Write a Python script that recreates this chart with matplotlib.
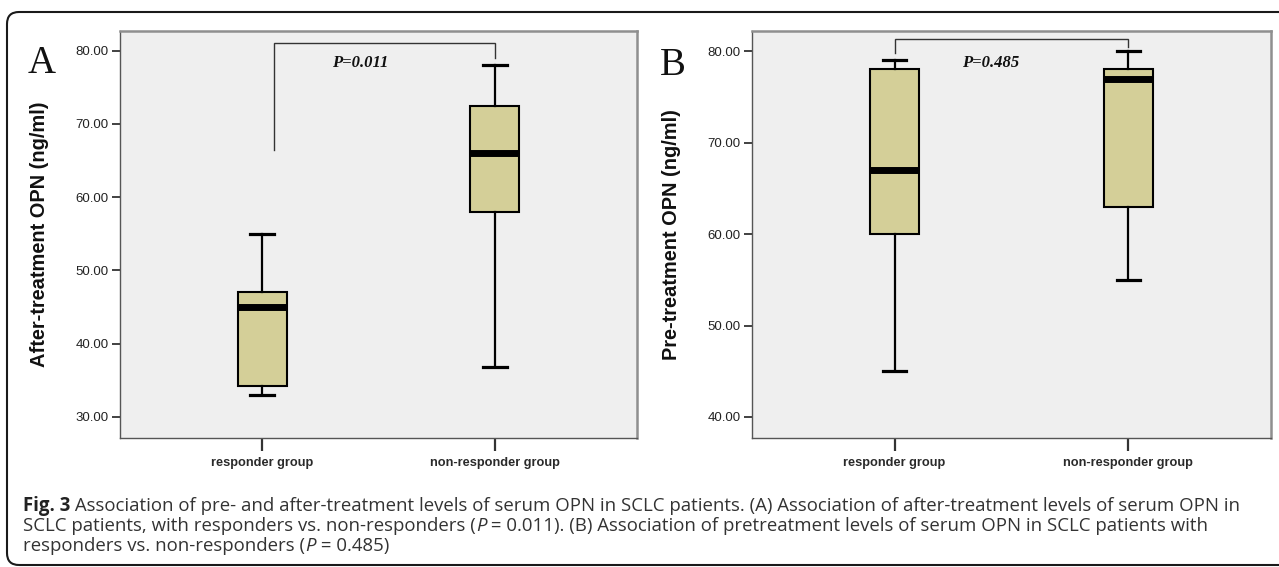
import matplotlib
matplotlib.use("Agg")
import matplotlib.pyplot as plt
from matplotlib.patches import FancyBboxPatch
from matplotlib.transforms import IdentityTransform

W, H, DPI = 1279, 567, 100

# ---------------- data ----------------
categories = ["responder group", "non-responder group"]

# Panel A: after-treatment OPN (ng/ml)
a_whislo = [33.0, 36.8]
a_q1 = [34.2, 58.0]
a_med = [45.0, 66.0]
a_q3 = [47.0, 72.5]
a_whishi = [55.0, 78.0]
a_ylabel = "After-treatment OPN (ng/ml)"
a_yticks = [30, 40, 50, 60, 70, 80]
a_p = "P=0.011"
a_bracket_x = [1.05, 2.0]
a_bracket_y = [66.4, 81.0, 79.0]   # left leg bottom, top, right leg bottom

# Panel B: pre-treatment OPN (ng/ml)
b_whislo = [45.0, 55.0]
b_q1 = [60.0, 63.0]
b_med = [67.0, 77.0]
b_q3 = [78.0, 78.0]
b_whishi = [79.0, 80.0]
b_ylabel = "Pre-treatment OPN (ng/ml)"
b_yticks = [40, 50, 60, 70, 80]
b_p = "P=0.485"
b_bracket_x = [1.0, 2.0]
b_bracket_y = [79.8, 81.3, 80.4]

caption_lines = [
    [("Fig. 3", "bold"), (" Association of pre- and after-treatment levels of serum OPN in SCLC patients. (A) Association of after-treatment levels of serum OPN in", "normal")],
    [("SCLC patients, with responders vs. non-responders (", "normal"), ("P", "italic"), (" = 0.011). (B) Association of pretreatment levels of serum OPN in SCLC patients with", "normal")],
    [("responders vs. non-responders (", "normal"), ("P", "italic"), (" = 0.485)", "normal")],
]

# ---------------- styling ----------------
BOX_FILL = "#d4cf98"
AX_BG = "#efefef"
SANS = "Liberation Sans"
SERIF = "Liberation Serif"

fig = plt.figure(figsize=(W / DPI, H / DPI), dpi=DPI)
fig.patch.set_facecolor("white")


def px_axes(left, top, right, bottom):
    return fig.add_axes([left / W, 1 - bottom / H, (right - left) / W, (bottom - top) / H])


def draw_panel(ax, whislo, q1, med, q3, whishi, ylim, yticks, ylabel, ptext, ptext_xy, bx, by):
    stats = []
    for i, c in enumerate(categories):
        stats.append(dict(label=c, whislo=whislo[i], q1=q1[i], med=med[i], q3=q3[i], whishi=whishi[i], fliers=[]))
    ax.bxp(stats, positions=[1, 2], widths=0.21, capwidths=0.10, patch_artist=True, showfliers=False,
           boxprops=dict(facecolor=BOX_FILL, edgecolor="black", linewidth=1.5),
           medianprops=dict(color="black", linewidth=5.0, solid_capstyle="butt"),
           whiskerprops=dict(color="black", linewidth=1.6),
           capprops=dict(color="black", linewidth=2.3))
    ax.set_facecolor(AX_BG)
    ax.set_xlim(0.39, 2.61)
    ax.set_ylim(*ylim)
    ax.set_yticks(yticks)
    ax.set_yticklabels([f"{v:.2f}" for v in yticks], fontfamily=SANS, fontsize=9.5, color="#222222")
    ax.set_xticks([1, 2])
    ax.set_xticklabels(categories, fontfamily=SANS, fontsize=9.2, fontweight="bold", color="#2a2a2a")
    ax.tick_params(axis="y", direction="out", length=6, width=1.3, pad=2, color="#333333")
    ax.tick_params(axis="x", direction="out", length=9, width=1.6, pad=5, color="#333333")
    for s in ("left", "bottom"):
        ax.spines[s].set_color("#555555")
        ax.spines[s].set_linewidth(1.0)
    for s in ("top", "right"):
        ax.spines[s].set_color("#8f8f8f")
        ax.spines[s].set_linewidth(1.8)
    ax.set_ylabel(ylabel, fontfamily=SANS, fontsize=14.4, fontweight="bold", color="#111111")
    ax.yaxis.set_label_coords(-0.137, 0.5)
    # significance bracket
    ax.plot([bx[0], bx[0], bx[1], bx[1]], [by[0], by[1], by[1], by[2]], color="#333333", lw=1.0,
            solid_joinstyle="miter")
    ax.text(ptext_xy[0], ptext_xy[1], ptext, fontfamily=SERIF, fontstyle="italic", fontweight="bold",
            fontsize=12, ha="center", va="center", color="#111111")


axA = px_axes(120, 31, 637, 438)
draw_panel(axA, a_whislo, a_q1, a_med, a_q3, a_whishi, (27.1, 82.7), a_yticks, a_ylabel,
           a_p, (1.42, 78.3), a_bracket_x, a_bracket_y)

axB = px_axes(752, 31, 1271, 438)
draw_panel(axB, b_whislo, b_q1, b_med, b_q3, b_whishi, (37.7, 82.2), b_yticks, b_ylabel,
           b_p, (1.41, 78.7), b_bracket_x, b_bracket_y)

# panel letters
fig.text(28 / W, 1 - 73 / H, "A", fontfamily=SERIF, fontsize=28, ha="left", va="baseline", color="#111111")
fig.text(660 / W, 1 - 75 / H, "B", fontfamily=SERIF, fontsize=28, ha="left", va="baseline", color="#111111")

# outer rounded frame
frame = FancyBboxPatch((7, 2), 1300, 553, boxstyle="round,pad=0,rounding_size=12",
                       transform=IdentityTransform(), fill=False, edgecolor="#1a1a1a", linewidth=1.5)
fig.patches.append(frame)

# caption with mixed styles; size fitted so line 1 spans ~1212 px
CAP_FONT = "Open Sans"
renderer = fig.canvas.get_renderer()


def style_kw(style):
    if style == "bold":
        return dict(fontweight="bold", color="#222222")
    if style == "italic":
        return dict(fontstyle="italic", color="#333333")
    return dict(color="#333333")


def line_width(runs, size):
    total = 0
    for txt, st in runs:
        t = fig.text(0, 0, txt, fontfamily=CAP_FONT, fontsize=size, **style_kw(st))
        total += t.get_window_extent(renderer).width
        t.remove()
    return total


base = 12.0
w1 = line_width(caption_lines[0], base)
cap_size = base * 1212.0 / w1

baselines = [511, 531, 551]
for runs, yb in zip(caption_lines, baselines):
    x = 23.0
    for txt, st in runs:
        t = fig.text(x / W, 1 - yb / H, txt, fontfamily=CAP_FONT, fontsize=cap_size, ha="left",
                     va="baseline", **style_kw(st))
        x += t.get_window_extent(renderer).width

fig.savefig("out.png", dpi=DPI)
